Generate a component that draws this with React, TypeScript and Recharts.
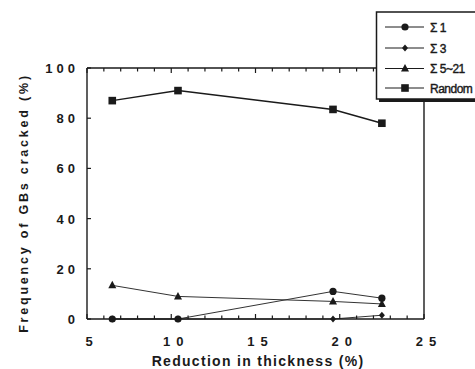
import React from "react";
import { LineChart, Line, XAxis, YAxis } from "recharts";

const reductions = [6.5, 10.4, 19.6, 22.5];
const sigma1 = [0, 0, 11, 8.3];
const sigma3 = [0, 0, 0, 1.5];
const sigma5to21 = [13.4, 9, 7, 6];
const randomGB = [87, 91, 83.5, 78];

const xTicks = [5, 6, 7, 8, 9, 10, 11, 12, 13, 14, 15, 16, 17, 18, 19, 20, 21, 22, 23, 24, 25];
const yTicks = [0, 20, 40, 60, 80, 100];

const legendItems = [
  { name: "Σ 1", shape: "circle" },
  { name: "Σ 3", shape: "diamond" },
  { name: "Σ 5~21", shape: "triangle" },
  { name: "Random", shape: "square" },
];

const data = reductions.map((r, i) => ({
  r,
  s1: sigma1[i],
  s3: sigma3[i],
  s5: sigma5to21[i],
  rnd: randomGB[i],
}));

const INK = "#1a1a1a";

function Marker({ shape, cx, cy }: { shape: string; cx: number; cy: number }) {
  if (shape === "circle") return <circle cx={cx} cy={cy} r={3.6} fill={INK} />;
  if (shape === "diamond")
    return <polygon points={`${cx},${cy - 3.5} ${cx + 3},${cy} ${cx},${cy + 3.5} ${cx - 3},${cy}`} fill={INK} />;
  if (shape === "triangle")
    return <polygon points={`${cx},${cy - 4.5} ${cx + 4},${cy + 3} ${cx - 4},${cy + 3}`} fill={INK} />;
  return <rect x={cx - 3.8} y={cy - 3.8} width={7.6} height={7.6} fill={INK} />;
}

const makeDot = (shape: string) => (props: any) => {
  const { cx, cy, index } = props;
  if (cx == null || cy == null) return <g key={index} />;
  return <Marker key={index} shape={shape} cx={cx} cy={cy} />;
};

const tickFont = { fontFamily: "Liberation Sans, Arial, sans-serif", fontWeight: 700, fontSize: 13 };

const BottomTick = (props: any) => {
  const { x, y, payload } = props;
  const major = payload.value % 5 === 0;
  return (
    <g>
      <line x1={x} y1={y} x2={x} y2={y - (major ? 5 : 3.5)} stroke={INK} strokeWidth={1.2} />
      {major && (
        <text x={x + 5} y={y + 27} textAnchor="middle" fill={INK} style={{ ...tickFont, letterSpacing: 6 }}>
          {payload.value}
        </text>
      )}
    </g>
  );
};

const TopTick = (props: any) => {
  const { x, y, payload } = props;
  const major = payload.value % 5 === 0;
  return <line x1={x} y1={y} x2={x} y2={y + (major ? 5 : 3.5)} stroke={INK} strokeWidth={1.2} />;
};

const LeftTick = (props: any) => {
  const { x, y, payload } = props;
  return (
    <g>
      <line x1={x} y1={y} x2={x + 4} y2={y} stroke={INK} strokeWidth={1.2} />
      <text x={x - 8} y={y + 5} textAnchor="end" fill={INK} style={{ ...tickFont, letterSpacing: 4 }}>
        {payload.value}
      </text>
    </g>
  );
};

function LegendBox() {
  const rowsY = [27, 48, 68.5, 88];
  return (
    <svg width={110} height={100} style={{ position: "absolute", left: 370, top: 5 }}>
      <rect x={9} y={10} width={110} height={87} fill={INK} />
      <rect x={6.5} y={7} width={110} height={87} fill="#fff" stroke={INK} strokeWidth={1.5} />
      {legendItems.map((it, i) => {
        const cy = rowsY[i] - 5;
        return (
          <g key={it.name}>
            <line x1={15} x2={54} y1={cy} y2={cy} stroke={INK} strokeWidth={1} />
            <Marker shape={it.shape} cx={35} cy={cy} />
            <text
              x={60}
              y={cy + 4.5}
              fill={INK}
              style={{ fontFamily: "Liberation Sans, Arial, sans-serif", fontSize: 12, fontWeight: 400, letterSpacing: -0.5, stroke: INK, strokeWidth: 0.4 }}
            >
              {it.name}
            </text>
          </g>
        );
      })}
    </svg>
  );
}

export default function App() {
  return (
    <div style={{ position: "absolute", left: 0, top: 0, width: 475, height: 369, background: "#fff" }}>
      <LineChart
        width={475}
        height={369}
        data={data}
        margin={{ top: 67, right: 50, bottom: 49, left: 86 }}
      >
        <XAxis
          xAxisId="b"
          dataKey="r"
          type="number"
          domain={[5, 25]}
          ticks={xTicks}
          interval={0}
          tickSize={0}
          tickMargin={0}
          height={1}
          axisLine={{ stroke: INK, strokeWidth: 1.4 }}
          tickLine={false}
          tick={<BottomTick />}
        />
        <XAxis
          xAxisId="t"
          orientation="top"
          dataKey="r"
          type="number"
          domain={[5, 25]}
          ticks={xTicks}
          interval={0}
          tickSize={0}
          tickMargin={0}
          height={1}
          axisLine={{ stroke: INK, strokeWidth: 1.4 }}
          tickLine={false}
          tick={<TopTick />}
        />
        <YAxis
          yAxisId="l"
          type="number"
          domain={[0, 100]}
          ticks={yTicks}
          interval={0}
          tickSize={0}
          tickMargin={0}
          width={1}
          axisLine={{ stroke: INK, strokeWidth: 1.4 }}
          tickLine={false}
          tick={<LeftTick />}
        />
        <YAxis
          yAxisId="r"
          orientation="right"
          type="number"
          domain={[0, 100]}
          width={1}
          tick={false}
          tickLine={false}
          axisLine={{ stroke: INK, strokeWidth: 1.4 }}
        />
        <Line xAxisId="b" yAxisId="l" dataKey="s1" stroke="#333" strokeWidth={1} dot={makeDot("circle")} isAnimationActive={false} />
        <Line xAxisId="b" yAxisId="l" dataKey="s3" stroke="#333" strokeWidth={1} dot={makeDot("diamond")} isAnimationActive={false} />
        <Line xAxisId="b" yAxisId="l" dataKey="s5" stroke="#333" strokeWidth={1} dot={makeDot("triangle")} isAnimationActive={false} />
        <Line xAxisId="b" yAxisId="l" dataKey="rnd" stroke={INK} strokeWidth={1.5} dot={makeDot("square")} isAnimationActive={false} />
        <text
          x={24}
          y={203}
          textAnchor="middle"
          transform="rotate(-90 24 203)"
          dominantBaseline="central"
          fill={INK}
          style={{ fontFamily: "Liberation Sans, Arial, sans-serif", fontWeight: 700, fontSize: 12.5, letterSpacing: 2.8 }}
        >
          Frequency of GBs cracked (%)
        </text>
        <text
          x={258}
          y={366}
          textAnchor="middle"
          fill={INK}
          style={{ fontFamily: "Liberation Sans, Arial, sans-serif", fontWeight: 700, fontSize: 14, letterSpacing: 1.3 }}
        >
          Reduction in thickness (%)
        </text>
      </LineChart>
      <LegendBox />
    </div>
  );
}
